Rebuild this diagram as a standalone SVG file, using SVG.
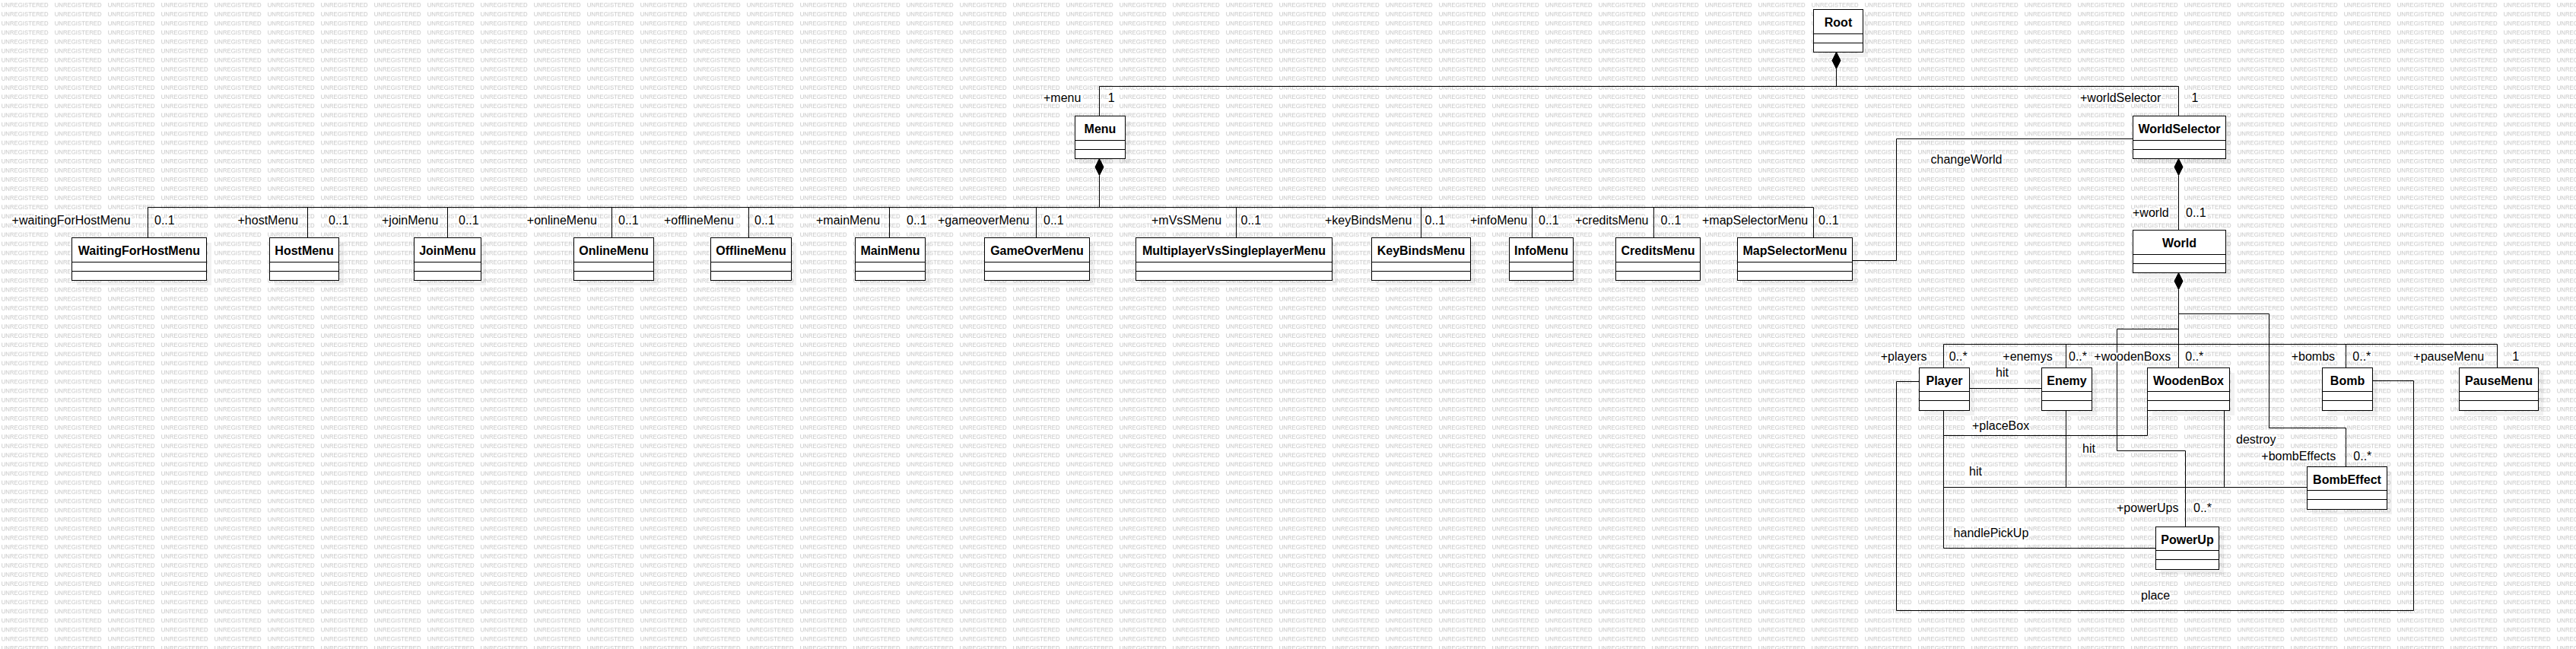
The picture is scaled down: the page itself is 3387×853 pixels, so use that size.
<svg xmlns="http://www.w3.org/2000/svg" width="3387" height="853" viewBox="0 0 3387 853">
<style>
.bx{fill:#fff;stroke:#000;stroke-width:1}
.sh{fill:#000;opacity:.05}
.dv{stroke:#000;stroke-width:1}
.nm{font-family:"Liberation Sans",Arial,sans-serif;font-size:16px;font-weight:bold;text-anchor:middle;fill:#000}
.lb{font-family:"Liberation Sans",Arial,sans-serif;font-size:16px;fill:#000;stroke:#fff;stroke-width:5;stroke-linejoin:round;paint-order:stroke}
.cn{fill:none;stroke:#000;stroke-width:1}
.dm{fill:#000;stroke:#000;stroke-width:1}
.wm{font-family:"Liberation Sans",Arial,sans-serif;font-size:7.8px;fill:#c6c6c6}
</style>
<defs>
<pattern id="wm" patternUnits="userSpaceOnUse" x="0" y="0" width="70" height="12.075">
<text class="wm" x="1.7" y="9" textLength="62" lengthAdjust="spacingAndGlyphs">UNREGISTERED</text>
</pattern>
</defs>
<rect width="3387" height="853" fill="#fff"/>
<rect width="3387" height="853" fill="url(#wm)"/>

<g id="connectors">
<path class="cn" d="M1445.5 152 V113.5 H2864.5 V152"/>
<path class="cn" d="M2414.5 90.5 V113.5"/>
<polygon class="dm" points="2414.5,68.5 2420,79.5 2414.5,90.5 2409,79.5"/>
<path class="cn" d="M1445.5 230.5 V272.5"/>
<polygon class="dm" points="1445.5,208.5 1451,219.5 1445.5,230.5 1440,219.5"/>
<path class="cn" d="M194.5 312 V272.5 H2384.5 V312 M404.5 272.5 V312 M588.5 272.5 V312 M804.5 272.5 V312 M984.5 272.5 V312 M1169.5 272.5 V312 M1362.5 272.5 V312 M1625.5 272.5 V312 M1868.5 272.5 V312 M2014.5 272.5 V312 M2174.5 272.5 V312"/>
<path class="cn" d="M2435 342.5 H2493.5 V182.5 H2804"/>
<path class="cn" d="M2864.5 230.5 V302"/>
<polygon class="dm" points="2864.5,208.5 2870,219.5 2864.5,230.5 2859,219.5"/>
<path class="cn" d="M2864.5 380.5 V483"/>
<polygon class="dm" points="2864.5,358.5 2870,369.5 2864.5,380.5 2859,369.5"/>
<path class="cn" d="M2864.5 412.5 H2983.5 V562.5 H3084.5 V613"/>
<path class="cn" d="M2864.5 432.5 H2783.5 V592.5 H2873.5 V692"/>
<path class="cn" d="M2555.5 483 V452.5 H3283.5 V483 M2716.5 452.5 V483 M3084.5 452.5 V483"/>
<path class="cn" d="M2589 510.5 H2684"/>
<path class="cn" d="M2555.5 539 V572.5 H2823.5 V539"/>
<path class="cn" d="M2555.5 539 V640.5 H3033"/>
<path class="cn" d="M2716.5 539 V640.5"/>
<path class="cn" d="M2924.5 539 V640.5"/>
<path class="cn" d="M2555.5 539 V720.5 H2834"/>
<path class="cn" d="M3119 500.5 H3173.5 V802.5 H2493.5 V501.5 H2523"/>
</g>

<g id="labels">
<text class="lb" x="1372" y="134">+menu</text>
<text class="lb" x="1456.7" y="134">1</text>
<text class="lb" x="2735" y="134">+worldSelector</text>
<text class="lb" x="2881.6" y="134">1</text>
<text class="lb" x="2538.5" y="215">changeWorld</text>
<text class="lb" x="2804" y="285">+world</text>
<text class="lb" x="2874" y="285">0..1</text>
<text class="lb" x="15.6" y="295">+waitingForHostMenu</text>
<text class="lb" x="203" y="295">0..1</text>
<text class="lb" x="312.5" y="295">+hostMenu</text>
<text class="lb" x="432" y="295">0..1</text>
<text class="lb" x="502" y="295">+joinMenu</text>
<text class="lb" x="603" y="295">0..1</text>
<text class="lb" x="692.8" y="295">+onlineMenu</text>
<text class="lb" x="813" y="295">0..1</text>
<text class="lb" x="873" y="295">+offlineMenu</text>
<text class="lb" x="992" y="295">0..1</text>
<text class="lb" x="1073" y="295">+mainMenu</text>
<text class="lb" x="1192" y="295">0..1</text>
<text class="lb" x="1233" y="295">+gameoverMenu</text>
<text class="lb" x="1372" y="295">0..1</text>
<text class="lb" x="1514" y="295">+mVsSMenu</text>
<text class="lb" x="1631.5" y="295">0..1</text>
<text class="lb" x="1742" y="295">+keyBindsMenu</text>
<text class="lb" x="1873.5" y="295">0..1</text>
<text class="lb" x="1933" y="295">+infoMenu</text>
<text class="lb" x="2023" y="295">0..1</text>
<text class="lb" x="2071" y="295">+creditsMenu</text>
<text class="lb" x="2183.6" y="295">0..1</text>
<text class="lb" x="2238" y="295">+mapSelectorMenu</text>
<text class="lb" x="2391" y="295">0..1</text>
<text class="lb" x="2472.7" y="474.3">+players</text>
<text class="lb" x="2562.7" y="474.3">0..*</text>
<text class="lb" x="2633.3" y="474.3">+enemys</text>
<text class="lb" x="2720" y="474.3">0..*</text>
<text class="lb" x="2753.3" y="474.3">+woodenBoxs</text>
<text class="lb" x="2873.3" y="474.3">0..*</text>
<text class="lb" x="3012.7" y="474.3">+bombs</text>
<text class="lb" x="3093.3" y="474.3">0..*</text>
<text class="lb" x="3173.3" y="474.3">+pauseMenu</text>
<text class="lb" x="3303.3" y="474.3">1</text>
<text class="lb" x="2624" y="495">hit</text>
<text class="lb" x="2593" y="565">+placeBox</text>
<text class="lb" x="2940" y="583">destroy</text>
<text class="lb" x="2738" y="595">hit</text>
<text class="lb" x="2973.3" y="605">+bombEffects</text>
<text class="lb" x="3094.3" y="605">0..*</text>
<text class="lb" x="2589" y="625">hit</text>
<text class="lb" x="2783" y="673.3">+powerUps</text>
<text class="lb" x="2884" y="673.3">0..*</text>
<text class="lb" x="2568.6" y="705.7">handlePickUp</text>
<text class="lb" x="2815" y="788.3">place</text>
</g>

<g id="node-Root"><rect class="sh" x="2391" y="19" width="65" height="56"/><rect class="bx" x="2384.5" y="12.5" width="65" height="56"/><path class="dv" d="M2384.5 44.5 H2449.5 M2384.5 56.5 H2449.5"/><text class="nm" x="2417" y="35">Root</text></g>
<g id="node-Menu"><rect class="sh" x="1420" y="159" width="66" height="56"/><rect class="bx" x="1413.5" y="152.5" width="66" height="56"/><path class="dv" d="M1413.5 184.5 H1479.5 M1413.5 196.5 H1479.5"/><text class="nm" x="1446.5" y="175">Menu</text></g>
<g id="node-WorldSelector"><rect class="sh" x="2811" y="159" width="122" height="56"/><rect class="bx" x="2804.5" y="152.5" width="122" height="56"/><path class="dv" d="M2804.5 184.5 H2926.5 M2804.5 196.5 H2926.5"/><text class="nm" x="2865.5" y="175">WorldSelector</text></g>
<g id="node-World"><rect class="sh" x="2811" y="309" width="122" height="56"/><rect class="bx" x="2804.5" y="302.5" width="122" height="56"/><path class="dv" d="M2804.5 334.5 H2926.5 M2804.5 346.5 H2926.5"/><text class="nm" x="2865.5" y="325">World</text></g>

<g id="node-WaitingForHostMenu"><rect class="sh" x="101" y="319" width="177" height="56"/><rect class="bx" x="94.5" y="312.5" width="177" height="56"/><path class="dv" d="M94.5 344.5 H271.5 M94.5 356.5 H271.5"/><text class="nm" x="183" y="335">WaitingForHostMenu</text></g>
<g id="node-HostMenu"><rect class="sh" x="361" y="319" width="91" height="56"/><rect class="bx" x="354.5" y="312.5" width="91" height="56"/><path class="dv" d="M354.5 344.5 H445.5 M354.5 356.5 H445.5"/><text class="nm" x="400" y="335">HostMenu</text></g>
<g id="node-JoinMenu"><rect class="sh" x="551" y="319" width="88" height="56"/><rect class="bx" x="544.5" y="312.5" width="88" height="56"/><path class="dv" d="M544.5 344.5 H632.5 M544.5 356.5 H632.5"/><text class="nm" x="588.5" y="335">JoinMenu</text></g>
<g id="node-OnlineMenu"><rect class="sh" x="761" y="319" width="105" height="56"/><rect class="bx" x="754.5" y="312.5" width="105" height="56"/><path class="dv" d="M754.5 344.5 H859.5 M754.5 356.5 H859.5"/><text class="nm" x="807" y="335">OnlineMenu</text></g>
<g id="node-OfflineMenu"><rect class="sh" x="941" y="319" width="106" height="56"/><rect class="bx" x="934.5" y="312.5" width="106" height="56"/><path class="dv" d="M934.5 344.5 H1040.5 M934.5 356.5 H1040.5"/><text class="nm" x="987.5" y="335">OfflineMenu</text></g>
<g id="node-MainMenu"><rect class="sh" x="1131" y="319" width="92" height="56"/><rect class="bx" x="1124.5" y="312.5" width="92" height="56"/><path class="dv" d="M1124.5 344.5 H1216.5 M1124.5 356.5 H1216.5"/><text class="nm" x="1170.5" y="335">MainMenu</text></g>
<g id="node-GameOverMenu"><rect class="sh" x="1301" y="319" width="138" height="56"/><rect class="bx" x="1294.5" y="312.5" width="138" height="56"/><path class="dv" d="M1294.5 344.5 H1432.5 M1294.5 356.5 H1432.5"/><text class="nm" x="1363.5" y="335">GameOverMenu</text></g>
<g id="node-MultiplayerVsSingleplayerMenu"><rect class="sh" x="1500" y="319" width="258" height="56"/><rect class="bx" x="1493.5" y="312.5" width="258" height="56"/><path class="dv" d="M1493.5 344.5 H1751.5 M1493.5 356.5 H1751.5"/><text class="nm" x="1622.5" y="335">MultiplayerVsSingleplayerMenu</text></g>
<g id="node-KeyBindsMenu"><rect class="sh" x="1810" y="319" width="130" height="56"/><rect class="bx" x="1803.5" y="312.5" width="130" height="56"/><path class="dv" d="M1803.5 344.5 H1933.5 M1803.5 356.5 H1933.5"/><text class="nm" x="1868.5" y="335">KeyBindsMenu</text></g>
<g id="node-InfoMenu"><rect class="sh" x="1991" y="319" width="84" height="56"/><rect class="bx" x="1984.5" y="312.5" width="84" height="56"/><path class="dv" d="M1984.5 344.5 H2068.5 M1984.5 356.5 H2068.5"/><text class="nm" x="2026.5" y="335">InfoMenu</text></g>
<g id="node-CreditsMenu"><rect class="sh" x="2131" y="319" width="111" height="56"/><rect class="bx" x="2124.5" y="312.5" width="111" height="56"/><path class="dv" d="M2124.5 344.5 H2235.5 M2124.5 356.5 H2235.5"/><text class="nm" x="2180" y="335">CreditsMenu</text></g>
<g id="node-MapSelectorMenu"><rect class="sh" x="2291" y="319" width="151" height="56"/><rect class="bx" x="2284.5" y="312.5" width="151" height="56"/><path class="dv" d="M2284.5 344.5 H2435.5 M2284.5 356.5 H2435.5"/><text class="nm" x="2360" y="335">MapSelectorMenu</text></g>

<g id="node-Player"><rect class="sh" x="2530" y="490" width="66" height="56"/><rect class="bx" x="2523.5" y="483.5" width="66" height="56"/><path class="dv" d="M2523.5 514.5 H2589.5 M2523.5 526.5 H2589.5"/><text class="nm" x="2556.5" y="506">Player</text></g>
<g id="node-Enemy"><rect class="sh" x="2691" y="490" width="66" height="56"/><rect class="bx" x="2684.5" y="483.5" width="66" height="56"/><path class="dv" d="M2684.5 514.5 H2750.5 M2684.5 526.5 H2750.5"/><text class="nm" x="2717.5" y="506">Enemy</text></g>
<g id="node-WoodenBox"><rect class="sh" x="2830" y="490" width="108" height="56"/><rect class="bx" x="2823.5" y="483.5" width="108" height="56"/><path class="dv" d="M2823.5 514.5 H2931.5 M2823.5 526.5 H2931.5"/><text class="nm" x="2877.5" y="506">WoodenBox</text></g>
<g id="node-Bomb"><rect class="sh" x="3060" y="490" width="66" height="56"/><rect class="bx" x="3053.5" y="483.5" width="66" height="56"/><path class="dv" d="M3053.5 514.5 H3119.5 M3053.5 526.5 H3119.5"/><text class="nm" x="3086.5" y="506">Bomb</text></g>
<g id="node-PauseMenu"><rect class="sh" x="3240" y="490" width="104" height="56"/><rect class="bx" x="3233.5" y="483.5" width="104" height="56"/><path class="dv" d="M3233.5 514.5 H3337.5 M3233.5 526.5 H3337.5"/><text class="nm" x="3285.5" y="506">PauseMenu</text></g>
<g id="node-BombEffect"><rect class="sh" x="3040" y="620" width="105" height="56"/><rect class="bx" x="3033.5" y="613.5" width="105" height="56"/><path class="dv" d="M3033.5 644.5 H3138.5 M3033.5 656.5 H3138.5"/><text class="nm" x="3086" y="636">BombEffect</text></g>
<g id="node-PowerUp"><rect class="sh" x="2841" y="699" width="83" height="56"/><rect class="bx" x="2834.5" y="692.5" width="83" height="56"/><path class="dv" d="M2834.5 723.5 H2917.5 M2834.5 735.5 H2917.5"/><text class="nm" x="2876" y="715">PowerUp</text></g>
</svg>
